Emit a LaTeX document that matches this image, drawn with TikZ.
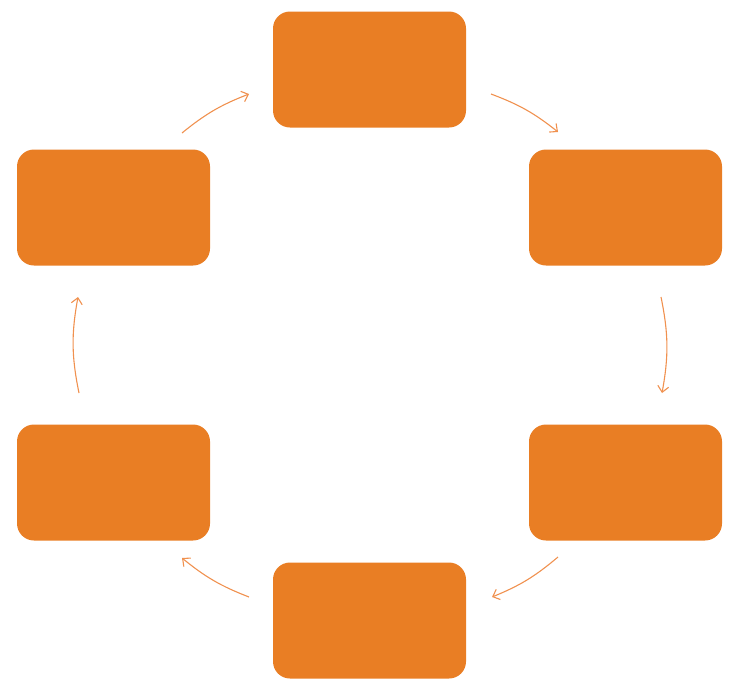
\documentclass[tikz,border=0pt]{standalone}
\usetikzlibrary{arrows.meta}
\definecolor{boxorange}{HTML}{E97E24}
\definecolor{arrorange}{HTML}{F0914F}
\begin{document}
\begin{tikzpicture}[x=1pt,y=-1pt,
  stagebox/.style={fill=boxorange, draw=none, rounded corners=17pt,
    minimum width=193pt, minimum height=116pt, inner sep=0pt},
  cyclearrow/.style={draw=arrorange, line width=1.1pt,
    -{Straight Barb[length=6pt,width=11pt,line width=1.1pt]}}]
\useasboundingbox (0,0) rectangle (738,694);
\node[stagebox] (top) at (369.5,69.5) {};
\node[stagebox] (rtop) at (625.5,207.5) {};
\node[stagebox] (rbot) at (625.5,482.5) {};
\node[stagebox] (bot) at (369.5,620.5) {};
\node[stagebox] (lbot) at (113.5,482.5) {};
\node[stagebox] (ltop) at (113.5,207.5) {};
\coordinate (a1s) at (491,94);  \coordinate (a1e) at (558,132);
\coordinate (a2s) at (661,297); \coordinate (a2e) at (662,393);
\coordinate (a3s) at (558,557); \coordinate (a3e) at (492,597);
\coordinate (a4s) at (249,597); \coordinate (a4e) at (182,558);
\coordinate (a5s) at (79,393);  \coordinate (a5e) at (78,297);
\coordinate (a6s) at (182,133); \coordinate (a6e) at (249,94);
\draw[cyclearrow] (a1s) to[bend left=9] (a1e);
\draw[cyclearrow] (a2s) to[bend left=11] (a2e);
\draw[cyclearrow] (a3s) to[bend left=9] (a3e);
\draw[cyclearrow] (a4s) to[bend left=9] (a4e);
\draw[cyclearrow] (a5s) to[bend left=11] (a5e);
\draw[cyclearrow] (a6s) to[bend left=9] (a6e);
\end{tikzpicture}
\end{document}
